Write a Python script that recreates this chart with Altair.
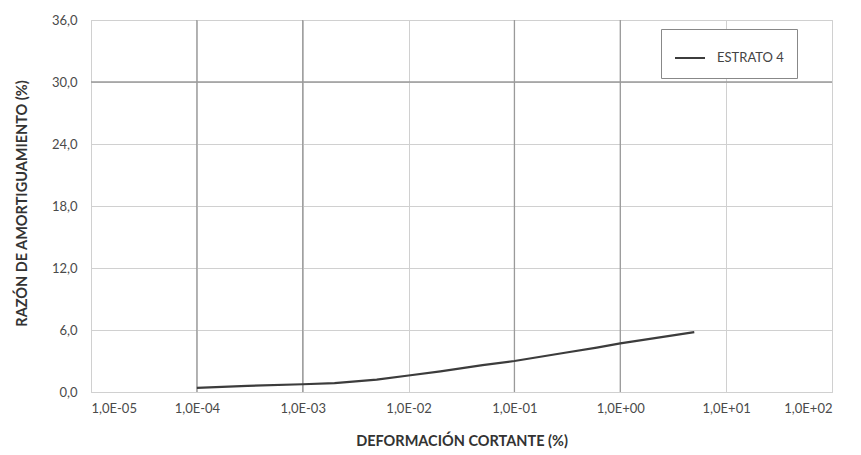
import altair as alt
import pandas as pd

# Data
strain = [1e-4, 3e-4, 1e-3, 2e-3, 5e-3, 1e-2, 2e-2, 5e-2, 1e-1, 3e-1, 6e-1, 1.0, 5.0]
damping = [0.4, 0.6, 0.75, 0.85, 1.2, 1.6, 2.0, 2.6, 3.0, 3.8, 4.3, 4.7, 5.8]
series_name = "ESTRATO 4"

x_ticks = [1e-5, 1e-4, 1e-3, 1e-2, 1e-1, 1e0, 1e1, 1e2]
y_ticks = [0, 6, 12, 18, 24, 30, 36]
dark_x = [1e-4, 1e-3, 1e-1, 1e0]
dark_y = [30]

df = pd.DataFrame({"strain": strain, "damping": damping, "serie": series_name})
dx = pd.DataFrame({"v": dark_x})
dy = pd.DataFrame({"v": dark_y})

FONT = "Lato"
xscale = alt.Scale(type="log", domain=[1e-5, 1e2], nice=False)
yscale = alt.Scale(domain=[0, 36], nice=False)

xlab = ("'1,0E' + (round(log(datum.value)/LN10) < 0 ? '-' : '+') + "
        "(abs(round(log(datum.value)/LN10)) < 10 ? '0' : '') + abs(round(log(datum.value)/LN10))")

line = alt.Chart(df).mark_line(color="#3c3c3c", strokeWidth=2.2).encode(
    x=alt.X("strain:Q", scale=xscale,
            axis=alt.Axis(values=x_ticks, labelExpr=xlab, title="DEFORMACIÓN CORTANTE (%)",
                          grid=True, gridColor="#d0d0d0", gridWidth=1,
                          domain=False, ticks=False, labelPadding=10,
                          labelFont=FONT, labelFontSize=13, labelColor="#4a4a4a",
                          titleFont=FONT, titleFontSize=14.5, titleFontWeight="bold",
                          titleColor="#333333", titleY=49, titleBaseline="middle")),
    y=alt.Y("damping:Q", scale=yscale,
            axis=alt.Axis(values=y_ticks, labelExpr="replace(format(datum.value, '.1f'), '.', ',')",
                          title="RAZÓN DE AMORTIGUAMIENTO (%)",
                          grid=True, gridColor="#d0d0d0", gridWidth=1,
                          domain=False, ticks=False, labelPadding=14,
                          labelFont=FONT, labelFontSize=13, labelColor="#4a4a4a",
                          titleFont=FONT, titleFontSize=14.5, titleFontWeight="bold",
                          titleColor="#333333", titleX=-69, titleY=183, titleAngle=-90,
                          titleAlign="center", titleBaseline="middle")),
    color=alt.Color("serie:N", scale=alt.Scale(range=["#3c3c3c"]),
                    legend=alt.Legend(title=None, orient="none", legendX=570, legendY=9,
                                      symbolType="stroke", symbolSize=900, symbolStrokeWidth=2,
                                      labelFont=FONT, labelFontSize=13, labelColor="#444444",
                                      labelOffset=11, padding=13, strokeColor="#888888",
                                      fillColor="white", cornerRadius=0)),
)

vrules = alt.Chart(dx).mark_rule(color="#9a9a9a", strokeWidth=1.3).encode(
    x=alt.X("v:Q", scale=xscale))
hrules = alt.Chart(dy).mark_rule(color="#9a9a9a", strokeWidth=1.5).encode(
    y=alt.Y("v:Q", scale=yscale))

chart = alt.layer(vrules, hrules, line).properties(
    width=741, height=372,
    padding={"left": 91, "top": 20, "right": 29, "bottom": 63},
    autosize=alt.AutoSizeParams(type="none"),
    background="white",
).configure_view(stroke="#c8c8c8", strokeWidth=1)

chart.save("out.html", embed_options={"renderer": "svg", "actions": False})
